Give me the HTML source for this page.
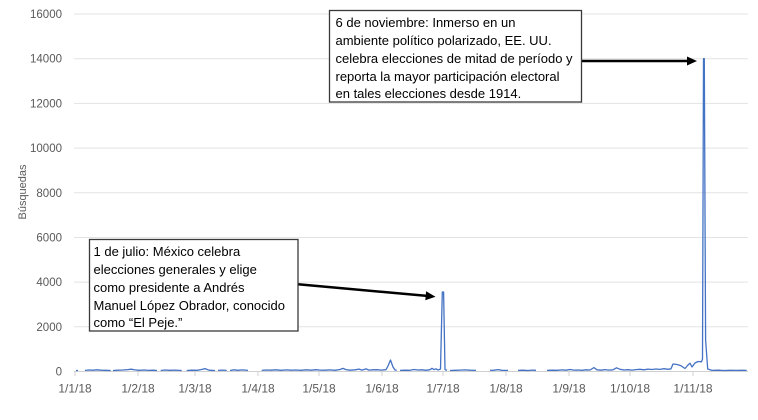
<!DOCTYPE html>
<html>
<head>
<meta charset="utf-8">
<style>
  html,body{margin:0;padding:0;background:#fff;}
  body{width:758px;height:420px;overflow:hidden;}
  svg{display:block;}
  .ax{font-family:"Liberation Sans",Arial,sans-serif;fill:#595959;}
  .ann{font-family:"Liberation Sans",Arial,sans-serif;fill:#000;font-size:13px;}
</style>
</head>
<body>
<svg width="758" height="420" viewBox="0 0 758 420" xmlns="http://www.w3.org/2000/svg">
  <rect x="0" y="0" width="758" height="420" fill="#fff"/>
  <!-- gridlines -->
  <g stroke="#e3e3e3" stroke-width="1">
    <line x1="74" y1="14" x2="748" y2="14"/>
    <line x1="74" y1="58.7" x2="748" y2="58.7"/>
    <line x1="74" y1="103.4" x2="748" y2="103.4"/>
    <line x1="74" y1="148.1" x2="748" y2="148.1"/>
    <line x1="74" y1="192.8" x2="748" y2="192.8"/>
    <line x1="74" y1="237.5" x2="748" y2="237.5"/>
    <line x1="74" y1="282.1" x2="748" y2="282.1"/>
    <line x1="74" y1="326.8" x2="748" y2="326.8"/>
  </g>
  <!-- x axis -->
  <g stroke="#d0d0d0" stroke-width="1">
    <line x1="74" y1="371.5" x2="748" y2="371.5"/>
    <line x1="75" y1="371.5" x2="75" y2="376"/>
    <line x1="138" y1="371.5" x2="138" y2="376"/>
    <line x1="195" y1="371.5" x2="195" y2="376"/>
    <line x1="258" y1="371.5" x2="258" y2="376"/>
    <line x1="319" y1="371.5" x2="319" y2="376"/>
    <line x1="382" y1="371.5" x2="382" y2="376"/>
    <line x1="443" y1="371.5" x2="443" y2="376"/>
    <line x1="506" y1="371.5" x2="506" y2="376"/>
    <line x1="569" y1="371.5" x2="569" y2="376"/>
    <line x1="630" y1="371.5" x2="630" y2="376"/>
    <line x1="693" y1="371.5" x2="693" y2="376"/>
  </g>
  <!-- y labels -->
  <g class="ax" font-size="11.5" text-anchor="end">
    <text x="62" y="18">16000</text>
    <text x="62" y="62.7">14000</text>
    <text x="62" y="107.4">12000</text>
    <text x="62" y="152.1">10000</text>
    <text x="62" y="196.8">8000</text>
    <text x="62" y="241.5">6000</text>
    <text x="62" y="286.1">4000</text>
    <text x="62" y="330.8">2000</text>
    <text x="62" y="375.5">0</text>
  </g>
  <!-- x labels -->
  <g class="ax" font-size="12" text-anchor="middle">
    <text x="75" y="392.5">1/1/18</text>
    <text x="138" y="392.5">1/2/18</text>
    <text x="195" y="392.5">1/3/18</text>
    <text x="258" y="392.5">1/4/18</text>
    <text x="319" y="392.5">1/5/18</text>
    <text x="382" y="392.5">1/6/18</text>
    <text x="443" y="392.5">1/7/18</text>
    <text x="506" y="392.5">1/8/18</text>
    <text x="569" y="392.5">1/9/18</text>
    <text x="630" y="392.5">1/10/18</text>
    <text x="693" y="392.5">1/11/18</text>
  </g>
  <!-- y title -->
  <text class="ax" font-size="11" text-anchor="middle" transform="translate(26,192) rotate(-90)">Búsquedas</text>

  <!-- data series -->
  <path fill="none" stroke="#4472C4" stroke-width="1.3" stroke-linejoin="round" d="
    M76 370.6 L78 370.4
    M85 370.4 L89 370 L93 370.2 L97 369.8 L101 370.2 L105 370.3 L110.7 370.5
    M113 370.5 L118 370.2 L123 370 L128 369.6 L131 369.2 L135 369.9 L139 370.3 L144 370 L149 370.4 L153 370.2 L157 370.5
    M160.7 370.5 L165 370 L170 370.3 L175 370.1 L181.7 370.5
    M186.7 370.5 L192 370.2 L197 370.3 L201 369.6 L205 368.6 L209 370.2 L215 370.5
    M218 370.4 L222 370.1 L226.7 370.4
    M230 370.5 L234 369.8 L238 370.3 L242 369.9 L248 370.4
    M261.7 370.4 L266 370 L271 370.2 L276 369.8 L281 370.3 L286 369.9 L291 370.2 L296 370 L301 370.3 L306 369.8 L311 370.2 L316 369.7 L320 370.1 L325 370.2 L330 369.9 L335 370.3 L340 369.5 L343 368.4 L346 369.6 L350 370.2 L355 369.8 L359 369.1 L362 370.1 L366 368.9 L369 370.1 L373 369.8 L377 369.7 L381 370.1 L386 369.7 L388 366 L390.5 360 L393 367 L395 370 L396.7 370.3
    M400 370.4 L405 370.2 L410 370.3 L414 369.5 L418 370 L422 369.8 L426 370.3 L430 369.7 L432 368.3 L434 369.6 L436 368.8 L438 370 L440.5 369 L442.3 292 L443.6 292 L445 369.5 L447 370.4
    M450 370.5 L455 370.3 L460 370.1 L465 369.9 L470 370.2 L476 370.4
    M490 370.4 L494 370.2 L498 369.6 L502 370.3 L508 370.4
    M518 370.4 L523 370.2 L528 370.5 L532 370.1 L536 370.3
    M547 370.4 L552 370.2 L557 370.3 L562 369.9 L566 370.2 L570 369.5 L574 370.1 L578 370 L582 370.3 L586 369.8 L590 370 L594 367.6 L597 369.8 L601 370.2 L605 369.6 L609 370.1 L613 369.8 L616.5 367.8 L620 369.3 L624 370 L628 369.7 L632 370.1 L636 369.6 L640 369.3 L644 369.8 L648 369.1 L652 369.5 L656 369 L660 369.4 L664 368.7 L668 369.3 L671 368.8 L673 364 L677 364.5 L681 365.8 L685 368.5 L688 365 L690 363.2 L692 367 L695 363 L698 361.5 L701.5 361.8 L702.5 359 L703.5 58.7 L704.3 58.7 L705.6 340 L707.7 369 L712 370.4 L718 370.2 L724 370.5 L730 370.3 L736 370.4 L742 370.3 L746.7 370.4
  "/>

  <!-- arrows -->
  <g stroke="#000" stroke-width="2.5" fill="#000">
    <line x1="582" y1="61" x2="689" y2="61"/>
    <line x1="298" y1="284.3" x2="427" y2="295.9"/>
  </g>
  <polygon points="697,61 687,56.5 687,65.5" fill="#000"/>
  <polygon points="435.5,296.7 426.1,291.3 425.3,300.3" fill="#000"/>

  <!-- annotation boxes -->
  <rect x="329.5" y="10.5" width="252" height="91.5" fill="#fff" stroke="#3a3a3a" stroke-width="1.3"/>
  <g class="ann">
    <text x="335.5" y="27">6 de noviembre: Inmerso en un</text>
    <text x="335.5" y="45">ambiente político polarizado, EE. UU.</text>
    <text x="335.5" y="63">celebra elecciones de mitad de período y</text>
    <text x="335.5" y="81">reporta la mayor participación electoral</text>
    <text x="335.5" y="98">en tales elecciones desde 1914.</text>
  </g>

  <rect x="89.5" y="239.5" width="208.5" height="91.5" fill="#fff" stroke="#3a3a3a" stroke-width="1.3"/>
  <g class="ann">
    <text x="93.5" y="256">1 de julio: México celebra</text>
    <text x="93.5" y="274">elecciones generales y elige</text>
    <text x="93.5" y="292">como presidente a Andrés</text>
    <text x="93.5" y="310">Manuel López Obrador, conocido</text>
    <text x="93.5" y="327">como “El Peje.”</text>
  </g>
</svg>
</body>
</html>
